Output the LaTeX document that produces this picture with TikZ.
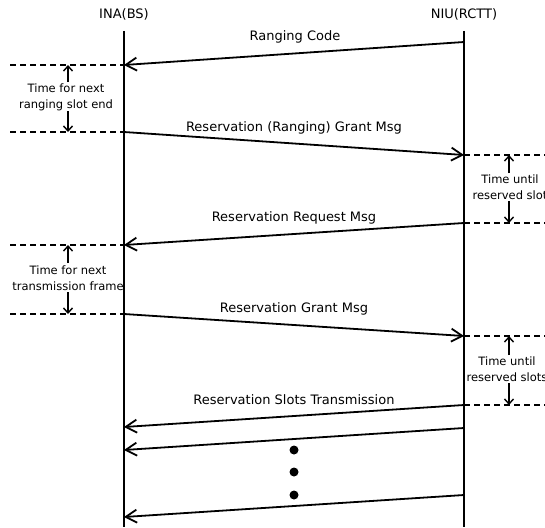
\documentclass[tikz,border=0pt]{standalone}
\usepackage{fontspec}
\setmainfont{DejaVu Sans}
\usetikzlibrary{arrows.meta}

\begin{document}
\begin{tikzpicture}[x=1pt, y=-1pt,
  every node/.style={font=\fontsize{13}{15}\selectfont, inner sep=0pt},
  life/.style={line width=2pt},
  msg/.style={line width=1.8pt, -{Straight Barb[length=11pt,width=13pt,line width=1.8pt]}},
  slotline/.style={line width=1.6pt, dash pattern=on 6pt off 4pt},
  gap/.style={line width=1.4pt, -{Straight Barb[length=5pt,width=9pt,line width=1.4pt]}},
  note/.style={font=\fontsize{11.5}{16}\selectfont, align=center}]
\useasboundingbox (0,0) rectangle (545,527);
\clip (0,0) rectangle (545,527);
% lifelines
\node (ina) at (124,14) {INA(BS)};
\node (niu) at (464,14) {NIU(RCTT)};
\coordinate (inatop) at (124,31); \coordinate (inabot) at (124,527);
\coordinate (niutop) at (464,31); \coordinate (niubot) at (464,527);
\draw[life] (inatop)--(inabot); \draw[life] (niutop)--(niubot);
% message end points
\coordinate (n1) at (464,42);  \coordinate (a1) at (124,65);
\coordinate (a2) at (124,132); \coordinate (n2) at (464,155);
\coordinate (n3) at (464,223); \coordinate (a3) at (124,245);
\coordinate (a4) at (124,314); \coordinate (n4) at (464,336);
\coordinate (n5) at (464,405); \coordinate (a5) at (124,427);
\coordinate (n6) at (464,428); \coordinate (a6) at (124,450);
\coordinate (n7) at (464,495); \coordinate (a7) at (124,517);
\draw[msg] (n1)--(a1); \draw[msg] (a2)--(n2); \draw[msg] (n3)--(a3);
\draw[msg] (a4)--(n4); \draw[msg] (n5)--(a5); \draw[msg] (n6)--(a6); \draw[msg] (n7)--(a7);
\node (m1) at (295,37) {Ranging Code};
\node (m2) at (294,128) {Reservation (Ranging) Grant Msg};
\node (m3) at (294,218) {Reservation Request Msg};
\node (m4) at (294,309) {Reservation Grant Msg};
\node (m5) at (294,400) {Reservation Slots Transmission};
\foreach \y/\d in {450/d1,472/d2,495/d3} \fill (294,\y) circle (4.5pt) coordinate (\d);
% time gaps, left side
\coordinate (l1) at (10,65); \coordinate (l2) at (10,132);
\coordinate (l3) at (10,245); \coordinate (l4) at (10,314);
\draw[slotline] (l1)--(a1); \draw[slotline] (l2)--(a2); \draw[slotline] (l3)--(a3); \draw[slotline] (l4)--(a4);
\node[note] (g1) at (66,97) {Time for next\\ranging slot end};
\node[note] (g2) at (68,278) {Time for next\\transmission frame};
\coordinate (g1u) at (68,82); \coordinate (g1l) at (68,111);
\coordinate (g2u) at (68,263); \coordinate (g2l) at (68,292);
\draw[gap] (g1u)--(68,65); \draw[gap] (g1l)--(68,132);
\draw[gap] (g2u)--(68,245); \draw[gap] (g2l)--(68,314);
% time gaps, right side
\coordinate (r2) at (545,155); \coordinate (r3) at (545,223);
\coordinate (r4) at (545,336); \coordinate (r5) at (545,405);
\draw[slotline] (n2)--(r2); \draw[slotline] (n3)--(r3); \draw[slotline] (n4)--(r4); \draw[slotline] (n5)--(r5);
\node[note] (g3) at (510,187) {Time until\\reserved slot};
\node[note] (g4) at (507,369) {Time until\\reserved slots};
\coordinate (g3u) at (509,173); \coordinate (g3l) at (509,201);
\coordinate (g4u) at (509,355); \coordinate (g4l) at (509,383);
\draw[gap] (g3u)--(509,155); \draw[gap] (g3l)--(509,223);
\draw[gap] (g4u)--(509,336); \draw[gap] (g4l)--(509,405);
\end{tikzpicture}
\end{document}
